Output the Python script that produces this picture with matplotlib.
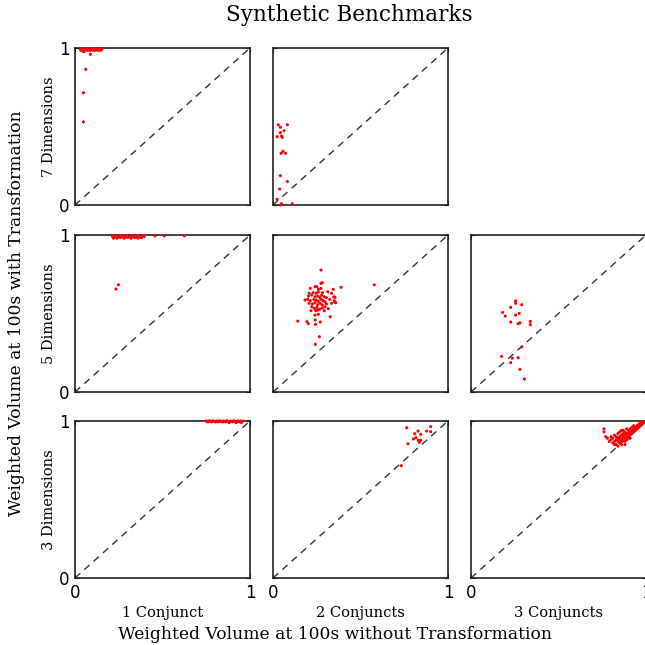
"""
Synthetic benchmark scatter grid: weighted volume with vs. without transformation.
"""

import matplotlib
matplotlib.use("Agg")
import matplotlib.pyplot as plt


# Row / column labels
row_labels = ["7 Dimensions", "5 Dimensions", "3 Dimensions"]
col_labels = ["1 Conjunct", "2 Conjuncts", "3 Conjuncts"]

# 7 dimensions, 1 conjunct
x_7d_1c = [0.030, 0.035, 0.040, 0.045, 0.050, 0.055, 0.060, 0.065, 0.070, 0.075,
           0.080, 0.085, 0.090, 0.095, 0.100, 0.105, 0.110, 0.115, 0.120, 0.125,
           0.130, 0.135, 0.140, 0.145, 0.150, 0.155, 0.051, 0.088, 0.061, 0.048, 0.048]
y_7d_1c = [0.990, 0.985, 0.995, 0.980, 0.990, 0.985, 0.995, 0.990, 0.985, 0.995,
           0.990, 0.985, 0.995, 0.990, 0.985, 0.995, 0.990, 0.985, 0.995, 0.990,
           0.985, 0.995, 0.990, 0.985, 0.990, 0.995, 0.976, 0.960, 0.864, 0.715, 0.529]

# 7 dimensions, 2 conjuncts
x_7d_2c = [0.030, 0.082, 0.042, 0.063, 0.042, 0.023, 0.048, 0.053, 0.057, 0.046,
           0.072, 0.042, 0.082, 0.038, 0.023, 0.048, 0.042, 0.110]
y_7d_2c = [0.511, 0.511, 0.495, 0.473, 0.461, 0.435, 0.439, 0.431, 0.342, 0.329,
           0.329, 0.187, 0.149, 0.102, 0.036, 0.008, 0.000, 0.008]

# 5 dimensions, 1 conjunct
x_5d_1c = [0.215, 0.225, 0.235, 0.245, 0.255, 0.265, 0.275, 0.285, 0.295, 0.305,
           0.315, 0.325, 0.335, 0.345, 0.355, 0.365, 0.375, 0.385, 0.395, 0.220,
           0.240, 0.260, 0.280, 0.300, 0.320, 0.340, 0.360, 0.380, 0.457, 0.510,
           0.625, 0.248, 0.234]
y_5d_1c = [0.990, 0.985, 0.995, 0.990, 0.985, 0.995, 0.990, 0.985, 0.995, 0.990,
           0.985, 0.995, 0.990, 0.985, 0.995, 0.990, 0.985, 0.995, 0.990, 0.980,
           0.980, 0.985, 0.980, 0.985, 0.980, 0.985, 0.980, 0.985, 0.995, 0.995,
           0.995, 0.683, 0.656]

# 5 dimensions, 2 conjuncts
x_5d_2c = [0.274, 0.274, 0.282, 0.213, 0.240, 0.251, 0.259, 0.274, 0.345, 0.389,
           0.206, 0.229, 0.247, 0.259, 0.282, 0.313, 0.335, 0.202, 0.221, 0.240,
           0.255, 0.267, 0.278, 0.293, 0.305, 0.347, 0.354, 0.183, 0.198, 0.213,
           0.233, 0.247, 0.259, 0.274, 0.286, 0.297, 0.324, 0.350, 0.358, 0.206,
           0.225, 0.240, 0.255, 0.270, 0.282, 0.305, 0.335, 0.354, 0.221, 0.236,
           0.251, 0.267, 0.282, 0.297, 0.316, 0.217, 0.244, 0.255, 0.293, 0.240,
           0.259, 0.327, 0.141, 0.194, 0.202, 0.242, 0.270, 0.242, 0.265, 0.242,
           0.579]
y_5d_2c = [0.777, 0.692, 0.696, 0.660, 0.671, 0.671, 0.654, 0.660, 0.654, 0.667,
           0.629, 0.633, 0.629, 0.637, 0.633, 0.639, 0.629, 0.611, 0.618, 0.607,
           0.611, 0.603, 0.616, 0.607, 0.601, 0.607, 0.603, 0.586, 0.590, 0.582,
           0.590, 0.586, 0.578, 0.590, 0.582, 0.575, 0.590, 0.582, 0.569, 0.565,
           0.561, 0.569, 0.556, 0.565, 0.554, 0.561, 0.565, 0.573, 0.543, 0.533,
           0.539, 0.527, 0.535, 0.543, 0.531, 0.518, 0.518, 0.522, 0.518, 0.490,
           0.495, 0.480, 0.452, 0.448, 0.435, 0.459, 0.446, 0.431, 0.352, 0.304,
           0.683]

# 5 dimensions, 3 conjuncts
x_5d_3c = [0.255, 0.255, 0.290, 0.227, 0.181, 0.276, 0.255, 0.196, 0.227, 0.270,
           0.280, 0.339, 0.339, 0.290, 0.175, 0.236, 0.270, 0.227, 0.280, 0.305]
y_5d_3c = [0.580, 0.565, 0.556, 0.539, 0.507, 0.501, 0.490, 0.484, 0.446, 0.435,
           0.441, 0.450, 0.429, 0.287, 0.227, 0.215, 0.219, 0.187, 0.144, 0.083]

# 3 dimensions, 1 conjunct
x_3d_1c = [0.750, 0.760, 0.770, 0.780, 0.790, 0.800, 0.810, 0.820, 0.830, 0.840,
           0.850, 0.860, 0.870, 0.880, 0.890, 0.900, 0.910, 0.920, 0.930, 0.940,
           0.950, 0.960, 0.755, 0.765, 0.785, 0.805, 0.825, 0.845, 0.865, 0.885,
           0.905, 0.925, 0.945]
y_3d_1c = [1.000, 0.995, 1.000, 0.995, 1.000, 0.995, 1.000, 0.995, 1.000, 0.995,
           1.000, 0.995, 1.000, 0.990, 1.000, 0.995, 1.000, 0.990, 1.000, 0.995,
           0.990, 1.000, 0.995, 1.000, 1.000, 0.995, 1.000, 0.995, 1.000, 0.995,
           1.000, 0.995, 1.000]

# 3 dimensions, 2 conjuncts
x_3d_2c = [0.764, 0.901, 0.829, 0.878, 0.901, 0.810, 0.844, 0.817, 0.802, 0.830,
           0.844, 0.836, 0.771, 0.733]
y_3d_2c = [0.957, 0.964, 0.936, 0.936, 0.932, 0.919, 0.915, 0.894, 0.885, 0.877,
           0.877, 0.864, 0.855, 0.715]

# 3 dimensions, 3 conjuncts
x_3d_3c = [0.76, 0.76, 0.77, 0.78, 0.80, 0.80, 0.81, 0.81, 0.82, 0.82,
           0.83, 0.83, 0.83, 0.84, 0.84, 0.84, 0.85, 0.85, 0.85, 0.85,
           0.86, 0.86, 0.86, 0.86, 0.87, 0.87, 0.87, 0.87, 0.88, 0.88,
           0.88, 0.88, 0.89, 0.89, 0.89, 0.89, 0.90, 0.90, 0.90, 0.90,
           0.91, 0.91, 0.91, 0.92, 0.92, 0.92, 0.93, 0.93, 0.93, 0.94,
           0.94, 0.95, 0.95, 0.96, 0.96, 0.97, 0.97, 0.98, 0.98, 0.99,
           1.00, 0.995, 0.88, 0.82, 0.84, 0.79, 0.86, 0.91]
y_3d_3c = [0.95, 0.93, 0.90, 0.89, 0.88, 0.90, 0.86, 0.89, 0.87, 0.91,
           0.85, 0.88, 0.90, 0.87, 0.89, 0.92, 0.86, 0.88, 0.90, 0.93,
           0.87, 0.89, 0.91, 0.85, 0.88, 0.90, 0.92, 0.94, 0.87, 0.89,
           0.91, 0.93, 0.88, 0.90, 0.92, 0.95, 0.90, 0.92, 0.94, 0.89,
           0.91, 0.93, 0.95, 0.92, 0.94, 0.96, 0.93, 0.95, 0.97, 0.94,
           0.96, 0.95, 0.97, 0.96, 0.98, 0.97, 0.99, 0.98, 0.99, 0.99,
           1.00, 0.995, 0.85, 0.85, 0.84, 0.87, 0.94, 0.89]

# Grid of panels (None = empty slot)
panels = [
    [(x_7d_1c, y_7d_1c), (x_7d_2c, y_7d_2c), None],
    [(x_5d_1c, y_5d_1c), (x_5d_2c, y_5d_2c), (x_5d_3c, y_5d_3c)],
    [(x_3d_1c, y_3d_1c), (x_3d_2c, y_3d_2c), (x_3d_3c, y_3d_3c)],
]

SERIF = "DejaVu Serif"

fig = plt.figure(figsize=(6.45, 6.45), dpi=100)

# Axes placement in figure fractions
lefts = [0.1163, 0.4233, 0.7302]
bottoms = [0.6822, 0.3922, 0.1039]
w, h = 0.2713, 0.2434

for i, row in enumerate(panels):
    for j, data in enumerate(row):
        if data is None:
            continue
        ax = fig.add_axes([lefts[j], bottoms[i], w, h])
        xs, ys = data
        ax.plot([0, 1], [0, 1], color="#333333", lw=1, dashes=(5, 4))
        ax.scatter(xs, ys, s=5, color="red", edgecolors="none", zorder=3,
                   clip_on=False)
        ax.set_xlim(0, 1)
        ax.set_ylim(0, 1)
        ax.set_xticks([0, 1])
        ax.set_yticks([0, 1])
        ax.tick_params(direction="in", length=3, top=True, right=True,
                       labelsize=12, pad=4)
        for s in ax.spines.values():
            s.set_linewidth(1.2)
            s.set_color("#222222")
        if j != 0:
            ax.set_yticklabels([])
        else:
            ax.set_yticklabels(["0", "1"])
            ax.set_ylabel(row_labels[i], family=SERIF, fontsize=10.5, labelpad=2)
        if i != 2:
            ax.set_xticklabels([])
        else:
            ax.set_xticklabels(["0", "1"])
            ax.set_xlabel(col_labels[j], family=SERIF, fontsize=10.5, labelpad=3)

fig.text(0.542, 0.977, "Synthetic Benchmarks", family=SERIF, fontsize=15.5,
         ha="center", va="center")
fig.text(0.52, 0.016, "Weighted Volume at 100s without Transformation",
         family=SERIF, fontsize=12.3, ha="center", va="center")
fig.text(0.026, 0.515, "Weighted Volume at 100s with Transformation",
         family=SERIF, fontsize=12.3, ha="center", va="center", rotation=90)

fig.savefig("out.png", dpi=100)
